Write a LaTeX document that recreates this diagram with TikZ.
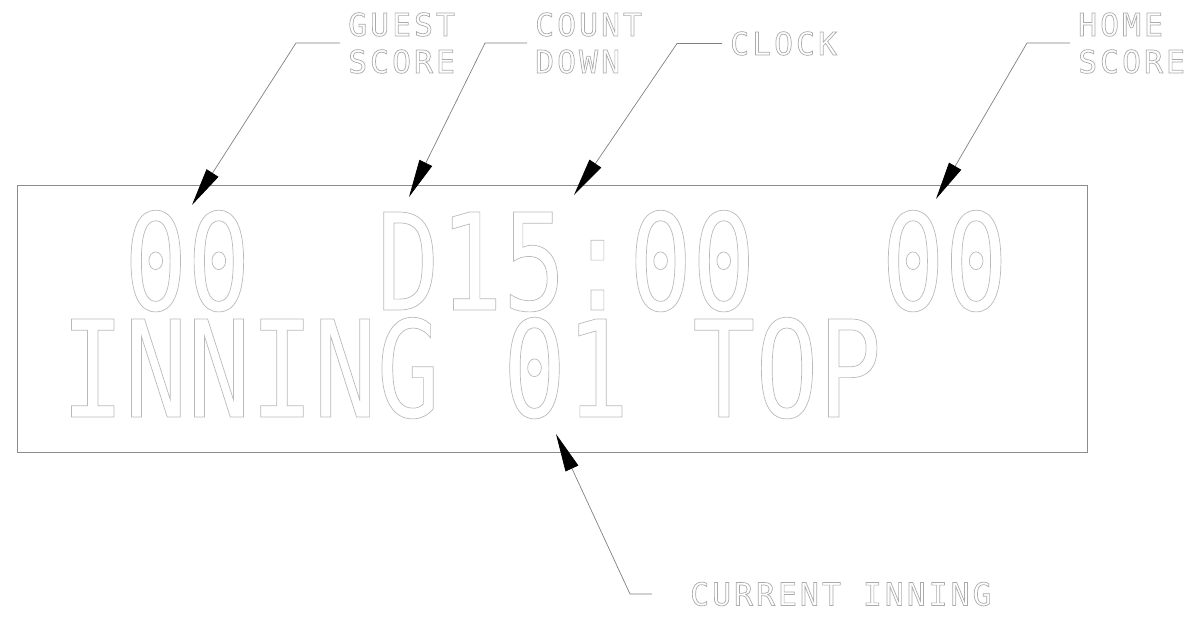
\documentclass[tikz,border=0pt]{standalone}
\usepackage{fontspec}
\usetikzlibrary{arrows.meta}
\newfontfamily\boardfont[FakeStretch=0.78]{DejaVu Sans Mono}
\newfontfamily\calloutfont[LetterSpace=9.5]{DejaVu Sans Mono}
% glyphs drawn as thin outlines, like the plotter font
\newcommand\strokedtext{\special{pdf:literal direct 1 Tr 0.7 w}}

\begin{document}
\begin{tikzpicture}[x=1pt,y=-1pt,
        board text/.style={anchor=base west,inner sep=0pt,text=black!27,
            font=\boardfont\fontsize{134.4}{134.4}\selectfont},
        callout/.style={anchor=west,inner sep=0pt,align=left,text=black!33,
            font=\calloutfont\fontsize{31.5}{37}\selectfont},
        leader/.style={draw=black!50,line width=0.7pt,
            -{Triangle[length=38pt,width=14pt,color=black]}},
    ]
    \useasboundingbox (0,0) rectangle (1200,619);

    % scoreboard face
    \draw[black!45,line width=0.9pt] (17,185) rectangle (1087,452);
    \node[board text] (row1) at (124,310) {\strokedtext 00~~D15:00~~00};
    \node[board text] (row2) at (61,417) {\strokedtext INNING~01~TOP};

    % callouts
    \node[callout] (guest) at (348,43) {\strokedtext GUEST\\SCORE};
    \node[callout] (count) at (535,43) {\strokedtext COUNT\\DOWN};
    \node[callout] (clock) at (730,43.5) {\strokedtext CLOCK};
    \node[callout] (home) at (1078,43) {\strokedtext HOME\\SCORE};
    \node[callout] (inning) at (690,594) {\strokedtext CURRENT~INNING};

    \coordinate (guest tip) at (192,205);
    \coordinate (count tip) at (409,197);
    \coordinate (clock tip) at (574,195);
    \coordinate (home tip) at (936,199);
    \coordinate (inning tip) at (556,434);

    \draw[leader] ([xshift=-8pt]guest.west) -- ++(-44,0) -- (guest tip);
    \draw[leader] ([xshift=-8pt]count.west) -- ++(-42,0) -- (count tip);
    \draw[leader] ([xshift=-8pt]clock.west) -- ++(-45,0) -- (clock tip);
    \draw[leader] ([xshift=-8pt]home.west) -- ++(-43,0) -- (home tip);
    \draw[leader] ([xshift=-38pt]inning.west) -- ++(-22,0) -- (inning tip);
\end{tikzpicture}
\end{document}
